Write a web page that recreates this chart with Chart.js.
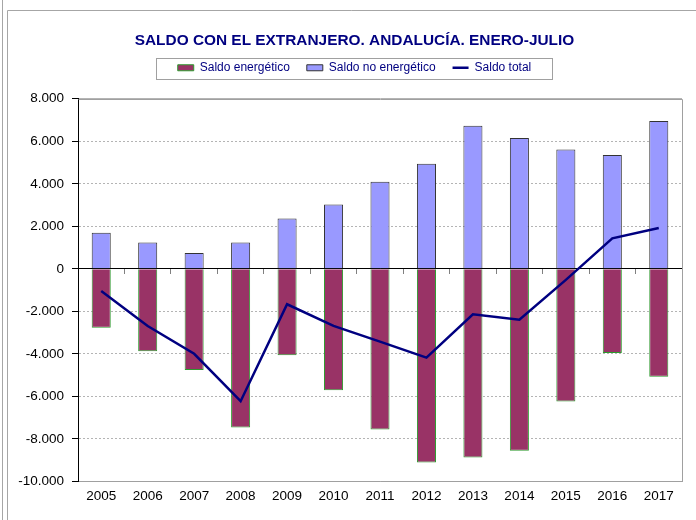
<!DOCTYPE html>
<html>
<head>
<meta charset="utf-8">
<script src="https://cdn.jsdelivr.net/npm/chart.js@4/dist/chart.umd.min.js"></script>
<style>
html,body{margin:0;padding:0;background:#ffffff;}
#wrap{width:696px;height:520px;position:relative;}
</style>
</head>
<body>
<div id="wrap"><canvas id="c" width="696" height="520"></canvas></div>
<script>
const titleText = 'SALDO CON EL EXTRANJERO. ANDALUCÍA. ENERO-JULIO';
const categories = ['2005','2006','2007','2008','2009','2010','2011','2012','2013','2014','2015','2016','2017'];
const seriesNames = ['Saldo energético', 'Saldo no energético', 'Saldo total'];
const saldoEnergetico = [-2770,-3880,-4760,-7470,-4070,-5720,-7560,-9120,-8880,-8560,-6240,-3960,-5080];
const saldoNoEnergetico = [1700,1240,740,1240,2370,3030,4100,4940,6730,6150,5610,5360,6960];
const saldoTotal = [-1040,-2690,-4000,-6230,-1670,-2690,-3430,-4180,-2140,-2400,-520,1430,1920];
const yTickLabels = ['-10.000','-8.000','-6.000','-4.000','-2.000','0','2.000','4.000','6.000','8.000'];

const FONT = "'Liberation Sans', Arial, sans-serif";

const framePlugin = {
  id: 'frame',
  beforeDraw(chart) {
    const ctx = chart.ctx;
    ctx.save();
    ctx.fillStyle = '#ffffff';
    ctx.fillRect(0, 0, chart.width, chart.height);
    ctx.strokeStyle = '#a6a6a6';
    ctx.lineWidth = 1;
    ctx.beginPath();
    ctx.moveTo(2.5, 0); ctx.lineTo(2.5, chart.height);
    ctx.moveTo(7.5, chart.height); ctx.lineTo(7.5, 10.5); ctx.lineTo(chart.width, 10.5);
    ctx.stroke();
    ctx.restore();
  },
  beforeDatasetsDraw(chart) {
    const a = chart.chartArea, ctx = chart.ctx;
    ctx.save();
    ctx.strokeStyle = '#a0a0a0';
    ctx.lineWidth = 1;
    ctx.beginPath();
    ctx.moveTo(Math.round(a.left) + 0.5, Math.round(a.top) + 0.5);
    ctx.lineTo(Math.round(a.right) + 0.5, Math.round(a.top) + 0.5);
    ctx.lineTo(Math.round(a.right) + 0.5, Math.round(a.bottom) + 0.5);
    ctx.stroke();
    ctx.restore();
  },
  afterDraw(chart) {
    const lg = chart.legend;
    if (!lg || !lg.legendHitBoxes || !lg.legendHitBoxes.length) return;
    const hb = lg.legendHitBoxes;
    let l = Infinity, r = -Infinity, t = Infinity, b = -Infinity;
    hb.forEach(h => { l = Math.min(l, h.left); r = Math.max(r, h.left + h.width); t = Math.min(t, h.top); b = Math.max(b, h.top + h.height); });
    const ctx = chart.ctx;
    ctx.save();
    ctx.strokeStyle = '#a0a0a0';
    ctx.lineWidth = 1;
    ctx.strokeRect(Math.round(l - 22) + 0.5, Math.round(t - 4) + 0.5, Math.round(r - l + 42), Math.round(b - t + 9));
    ctx.restore();
  }
};

new Chart(document.getElementById('c'), {
  type: 'bar',
  data: {
    labels: categories,
    datasets: [
      {
        label: seriesNames[0],
        data: saldoEnergetico,
        backgroundColor: '#993366',
        borderColor: '#2e9a2e',
        borderWidth: 1,
        stack: 's',
        order: 1,
        pointStyle: 'rect',
        barPercentage: 0.41,
        categoryPercentage: 1
      },
      {
        label: seriesNames[1],
        data: saldoNoEnergetico,
        backgroundColor: '#9999ff',
        borderColor: '#333333',
        borderWidth: 1,
        stack: 's',
        order: 1,
        pointStyle: 'rect',
        barPercentage: 0.41,
        categoryPercentage: 1
      },
      {
        type: 'line',
        label: seriesNames[2],
        data: saldoTotal,
        borderColor: '#000080',
        backgroundColor: '#000080',
        borderWidth: 2.5,
        pointRadius: 0,
        pointHoverRadius: 0,
        pointStyle: 'line',
        tension: 0,
        fill: false,
        order: 0
      }
    ]
  },
  options: {
    responsive: false,
    animation: false,
    devicePixelRatio: 1,
    events: [],
    layout: { padding: { top: 32, left: 27, right: 14, bottom: 8.5 } },
    plugins: {
      tooltip: { enabled: false },
      title: {
        display: true,
        text: titleText,
        color: '#000080',
        font: { family: FONT, size: 15.4, weight: 'bold', lineHeight: 1.2 },
        padding: { top: 0, bottom: -5.7 }
      },
      subtitle: {
        display: true,
        text: '',
        weight: 500,
        font: { family: FONT, size: 10, lineHeight: 1 },
        padding: { top: 0, bottom: 5 }
      },
      legend: {
        display: true,
        position: 'top',
        labels: {
          usePointStyle: true,
          pointStyleWidth: 16,
          boxHeight: 6,
          padding: 17,
          color: '#000080',
          font: { family: FONT, size: 12 },
          sort: (a, b) => a.datasetIndex - b.datasetIndex
        }
      }
    },
    scales: {
      x: {
        stacked: true,
        offset: true,
        grid: { display: true, offset: true, drawOnChartArea: false, drawTicks: false },
        border: { display: true, color: '#a0a0a0', width: 1 },
        ticks: { color: '#000000', padding: 7, font: { family: FONT, size: 13.5 } }
      },
      x2: {
        type: 'category',
        position: { y: 0 },
        offset: true,
        z: 1,
        afterFit: (scale) => { scale.height = 0; },
        grid: { display: true, offset: true, drawOnChartArea: false, drawTicks: true, tickLength: 5, tickColor: '#808080' },
        border: { display: true, color: '#000000', width: 1 },
        ticks: { display: false }
      },
      y: {
        stacked: false,
        min: -10000,
        max: 8000,
        afterFit: (scale) => {
          scale.width = 51;
          scale._computeLabelArea = () => undefined;
        },
        ticks: {
          stepSize: 2000,
          padding: 8,
          color: '#000000',
          font: { family: FONT, size: 13.5 },
          callback: (value, index) => yTickLabels[index]
        },
        grid: {
          color: (c) => (c.tick && c.tick.value === 0) ? '#000000' : '#b4b4b4',
          tickColor: '#000000',
          tickLength: 6,
          drawTicks: true
        },
        border: {
          display: true,
          color: '#000000',
          width: 1,
          dash: (c) => (c.tick && c.tick.value !== 0 && c.tick.value !== 8000 && c.tick.value !== -10000) ? [2, 2] : []
        }
      }
    }
  },
  plugins: [framePlugin]
});
</script>
</body>
</html>
